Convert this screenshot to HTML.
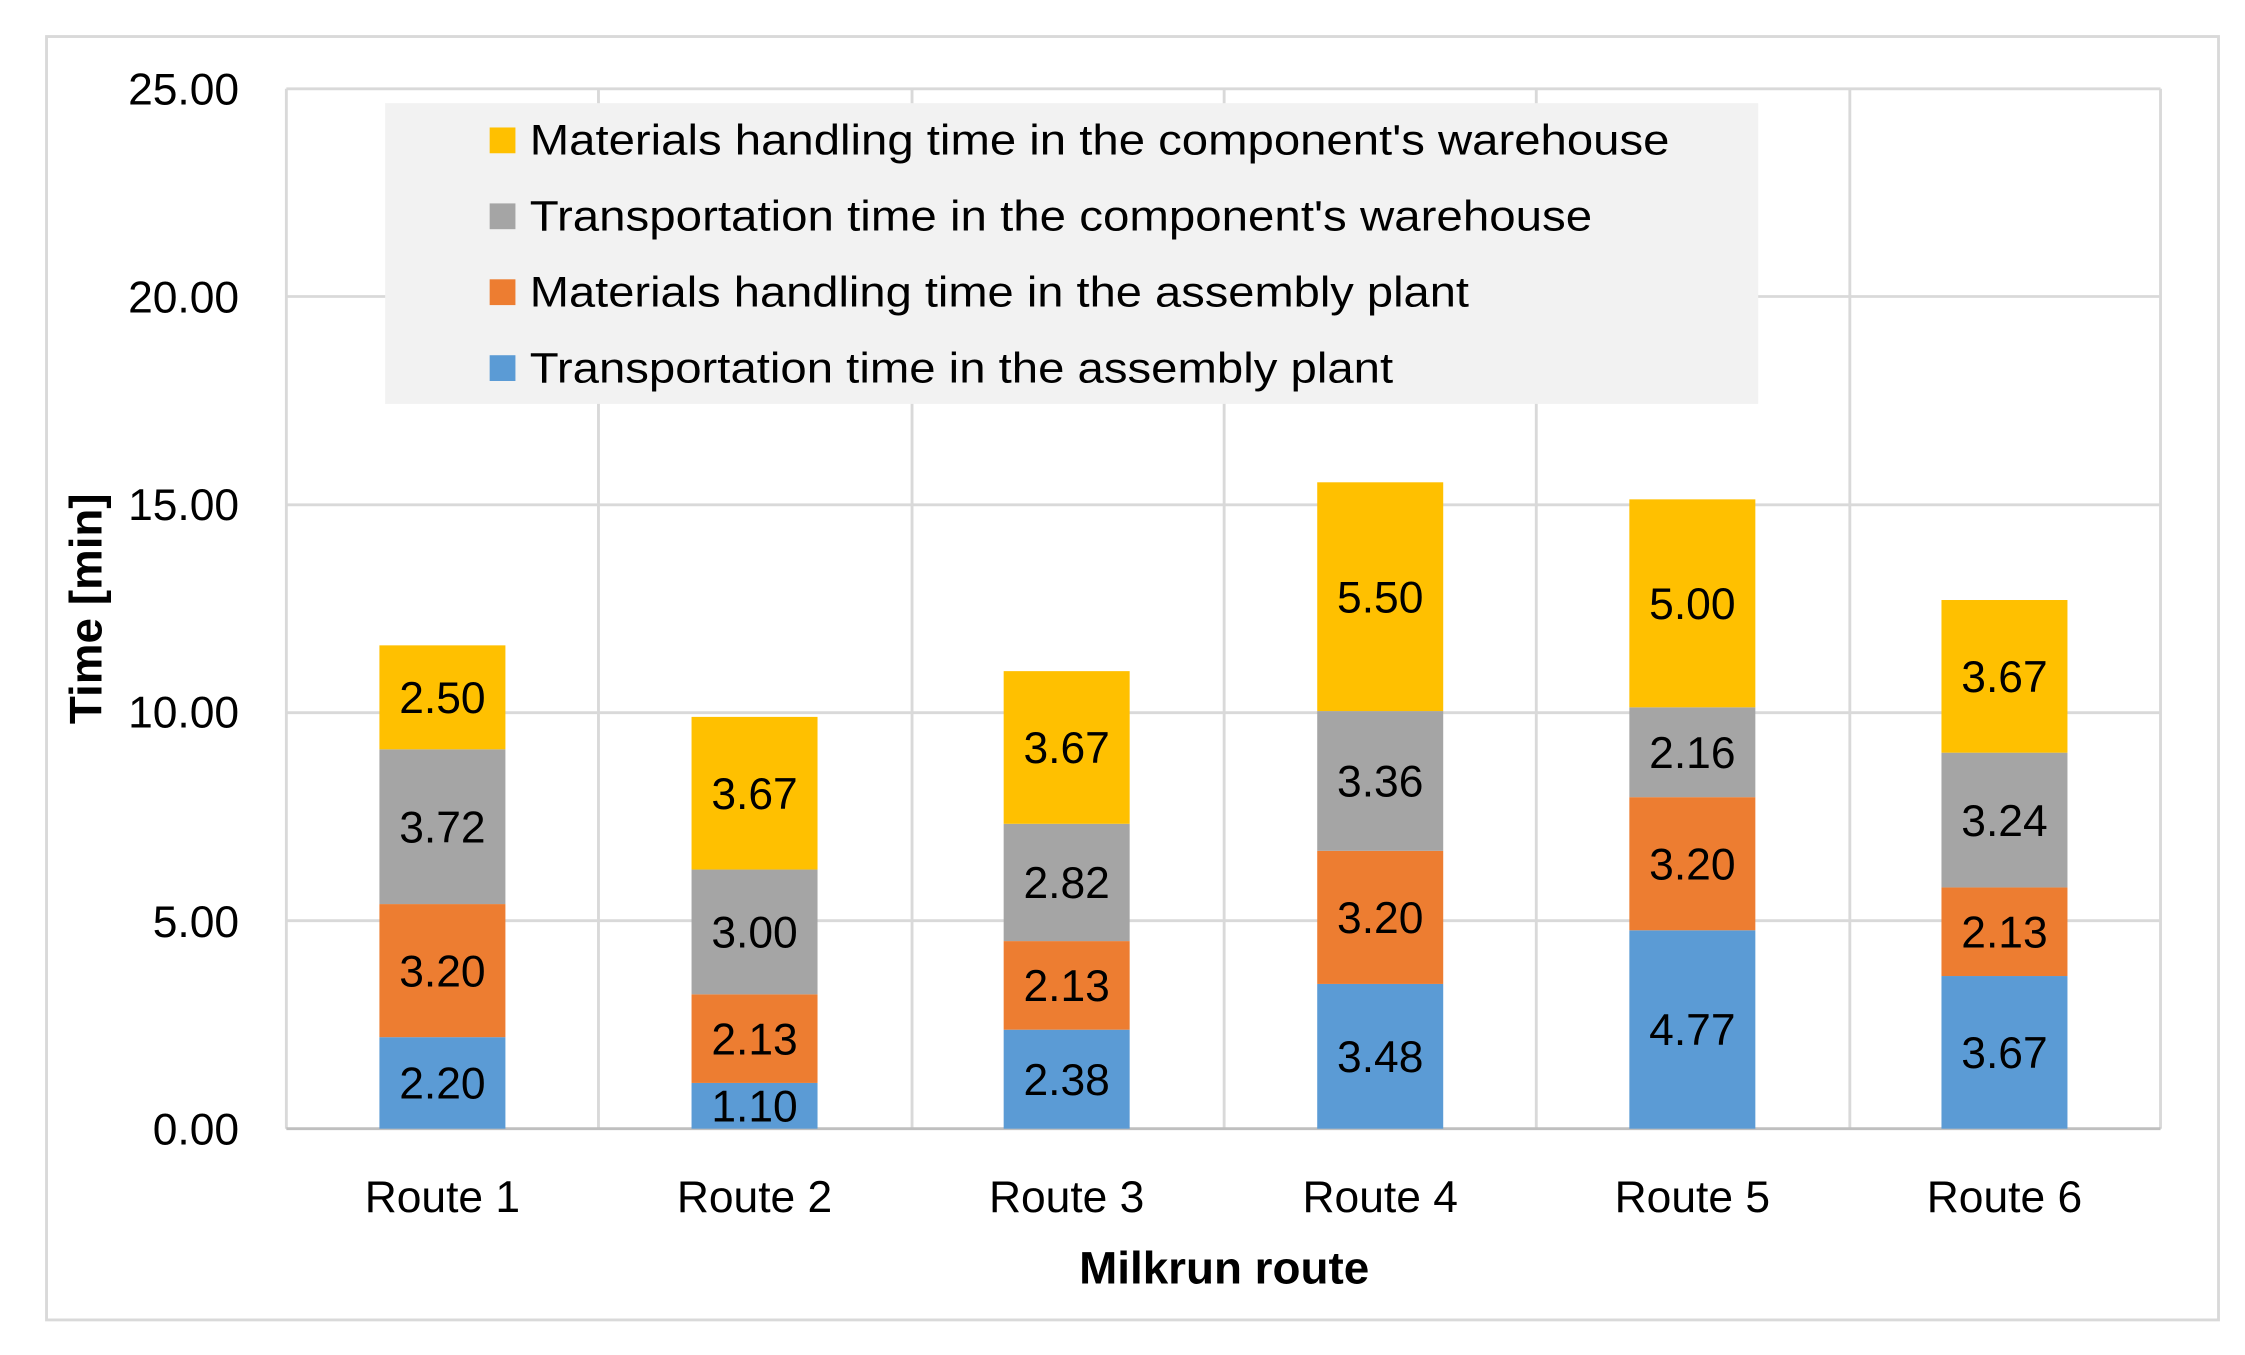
<!DOCTYPE html>
<html><head><meta charset="utf-8"><style>html,body{margin:0;padding:0;background:#fff}svg{display:block}</style></head>
<body>
<svg width="2245" height="1355" viewBox="0 0 1568 946" preserveAspectRatio="none" xmlns="http://www.w3.org/2000/svg" font-family="'Liberation Sans', sans-serif">
<rect x="0" y="0" width="1568" height="946" fill="#fff"/>
<rect x="32.5" y="25.5" width="1517" height="896" fill="#fff" stroke="#d9d9d9" stroke-width="2"/>
<g stroke="#d9d9d9" stroke-width="2">
<line x1="200" y1="62" x2="1509" y2="62"/>
<line x1="200" y1="207" x2="1509" y2="207"/>
<line x1="200" y1="352.4" x2="1509" y2="352.4"/>
<line x1="200" y1="497.6" x2="1509" y2="497.6"/>
<line x1="200" y1="642.8" x2="1509" y2="642.8"/>
<line x1="200" y1="62" x2="200" y2="788"/>
<line x1="418" y1="62" x2="418" y2="788"/>
<line x1="637" y1="62" x2="637" y2="788"/>
<line x1="855" y1="62" x2="855" y2="788"/>
<line x1="1073" y1="62" x2="1073" y2="788"/>
<line x1="1292" y1="62" x2="1292" y2="788"/>
<line x1="1509" y1="62" x2="1509" y2="788"/>
</g>
<line x1="200" y1="788" x2="1509" y2="788" stroke="#bfbfbf" stroke-width="2"/>
<g font-size="31" fill="#000" text-anchor="end">
<text x="167" y="73">25.00</text>
<text x="167" y="218">20.00</text>
<text x="167" y="363">15.00</text>
<text x="167" y="508">10.00</text>
<text x="167" y="654">5.00</text>
<text x="167" y="799">0.00</text>
</g>
<text transform="translate(71,425) rotate(-90)" font-size="32" font-weight="bold" text-anchor="middle">Time [min]</text>
<g id="bars"></g>
<rect x="269" y="72" width="959" height="210" fill="#f2f2f2"/>
<g font-size="30">
<rect x="342" y="89" width="18" height="18" fill="#ffc000"/>
<text x="370" y="108" textLength="796" lengthAdjust="spacingAndGlyphs">Materials handling time in the component's warehouse</text>
<rect x="342" y="142" width="18" height="18" fill="#a5a5a5"/>
<text x="370" y="161" textLength="742" lengthAdjust="spacingAndGlyphs">Transportation time in the component's warehouse</text>
<rect x="342" y="195" width="18" height="18" fill="#ed7d31"/>
<text x="370" y="214" textLength="656" lengthAdjust="spacingAndGlyphs">Materials handling time in the assembly plant</text>
<rect x="342" y="248" width="18" height="18" fill="#5b9bd5"/>
<text x="370" y="267" textLength="603" lengthAdjust="spacingAndGlyphs">Transportation time in the assembly plant</text>
</g>
<g font-size="31" text-anchor="middle">
<text x="309" y="846">Route 1</text>
<text x="527" y="846">Route 2</text>
<text x="745" y="846">Route 3</text>
<text x="964" y="846">Route 4</text>
<text x="1182" y="846">Route 5</text>
<text x="1400" y="846">Route 6</text>
</g>
<text x="855" y="896" font-size="32" font-weight="bold" text-anchor="middle">Milkrun route</text>
<script>
var data=[[2.20,3.20,3.72,2.50],[1.10,2.13,3.00,3.67],[2.38,2.13,2.82,3.67],[3.48,3.20,3.36,5.50],[4.77,3.20,2.16,5.00],[3.67,2.13,3.24,3.67]];
var cols=["#5b9bd5","#ed7d31","#a5a5a5","#ffc000"];
var cx=[309,527,745,964,1182,1400];
var g=document.getElementById("bars"),ns="http://www.w3.org/2000/svg",s=29.04,base=788;
data.forEach(function(d,i){var acc=0;d.forEach(function(v,j){var y1=base-(acc+v)*s,h=v*s;
var r=document.createElementNS(ns,"rect");r.setAttribute("x",cx[i]-44);r.setAttribute("y",y1);r.setAttribute("width",88);r.setAttribute("height",h);r.setAttribute("fill",cols[j]);g.appendChild(r);
var t=document.createElementNS(ns,"text");t.setAttribute("x",cx[i]);t.setAttribute("y",y1+h/2+11);t.setAttribute("font-size","31");t.setAttribute("text-anchor","middle");t.textContent=v.toFixed(2);g.appendChild(t);acc+=v;});});
</script>
</svg>
</body></html>
